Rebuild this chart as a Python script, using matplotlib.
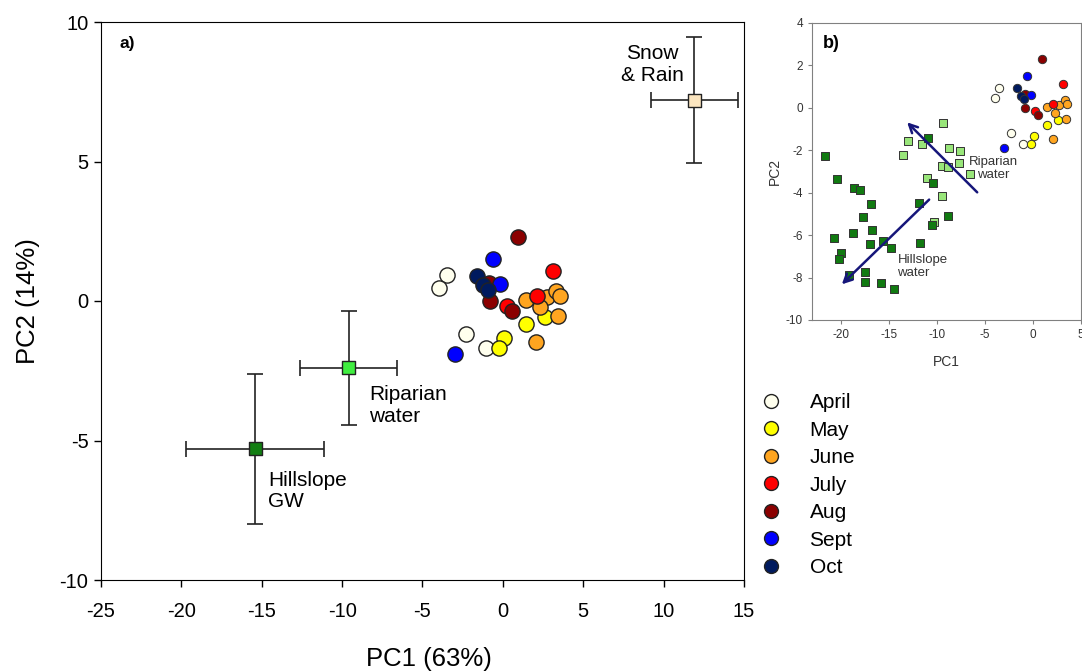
"""PCA biplot: stream samples by month with end-member means (a) and the
full end-member sample cloud (b, inset)."""

import matplotlib.pyplot as plt
from matplotlib.lines import Line2D

plt.rcParams["font.family"] = ["Liberation Sans", "DejaVu Sans"]
plt.rcParams["axes.unicode_minus"] = False

# --- stream samples by month (PC1, PC2) ---
months = ["April", "May", "June", "July", "Aug", "Sept", "Oct"]
month_colors = ["#FFFFEE", "#FFFF00", "#FFA520", "#FF0000",
                "#8B0000", "#0000FF", "#001A5E"]
april_pc1 = [-3.50, -3.97, -2.29, -1.05]
april_pc2 = [0.93, 0.45, -1.18, -1.70]
may_pc1 = [2.62, 1.42, 0.09, -0.22]
may_pc2 = [-0.58, -0.82, -1.34, -1.70]
june_pc1 = [1.42, 2.73, 3.30, 3.55, 2.31, 3.45, 2.06]
june_pc2 = [0.04, 0.13, 0.36, 0.18, -0.23, -0.54, -1.48]
july_pc1 = [3.14, 0.24, 2.10]
july_pc2 = [1.09, -0.18, 0.18]
aug_pc1 = [0.96, -0.85, -0.80, 0.55]
aug_pc2 = [2.28, 0.63, 0.00, -0.35]
sept_pc1 = [-0.59, -0.18, -2.98]
sept_pc2 = [1.51, 0.60, -1.91]
oct_pc1 = [-1.63, -1.22, -0.91]
oct_pc2 = [0.91, 0.57, 0.39]
month_pc1 = [april_pc1, may_pc1, june_pc1, july_pc1, aug_pc1, sept_pc1, oct_pc1]
month_pc2 = [april_pc2, may_pc2, june_pc2, july_pc2, aug_pc2, sept_pc2, oct_pc2]

# --- end-member means with spread (panel a) ---
em_names = ["Snow\n& Rain", "Riparian\nwater", "Hillslope\nGW"]
em_pc1 = [11.9, -9.6, -15.4]
em_pc2 = [7.2, -2.4, -5.3]
em_pc1_err = [2.7, 3.0, 4.3]
em_pc2_err = [2.25, 2.05, 2.7]
em_colors = ["#FCE6C0", "#40EE40", "#127F12"]

# --- individual end-member samples (panel b) ---
rip_pc1 = [-9.38, -13.02, -13.54, -11.56, -8.72, -7.57, -9.48, -8.89,
           -7.74, -6.60, -11.04, -9.48, -10.28]
rip_pc2 = [-0.72, -1.57, -2.24, -1.73, -1.90, -2.04, -2.76, -2.79,
           -2.61, -3.11, -3.31, -4.18, -5.38]
hill_pc1 = [-21.63, -20.35, -18.65, -17.99, -16.84, -17.74, -16.77, -18.75,
            -20.76, -17.01, -15.66, -14.79, -19.93, -20.24, -19.10, -17.53,
            -17.53, -15.83, -14.51, -11.84, -10.45, -10.49, -8.82, -11.74,
            -10.94]
hill_pc2 = [-2.29, -3.38, -3.77, -3.89, -4.52, -5.15, -5.75, -5.89,
            -6.14, -6.40, -6.28, -6.61, -6.84, -7.14, -7.90, -7.74,
            -8.21, -8.26, -8.52, -4.49, -3.55, -5.54, -5.10, -6.36,
            -1.43]

W, H = 1082, 671
fig = plt.figure(figsize=(W / 100, H / 100), dpi=100)

# ---------------- panel a ----------------
ax = fig.add_axes([101 / W, 1 - 580 / H, (744 - 101) / W, (580 - 22) / H])
ax.errorbar(em_pc1, em_pc2, xerr=em_pc1_err, yerr=em_pc2_err, fmt="none",
            ecolor="#222222", elinewidth=1.2, capsize=6, capthick=1.2,
            zorder=2)
ax.scatter(em_pc1, em_pc2, marker="s", s=88, c=em_colors,
           edgecolors="#222222", linewidths=1.0, zorder=3)

ax.text(9.28, 8.48, em_names[0], ha="center", va="center", fontsize=15,
        multialignment="center", linespacing=1.17)
ax.text(-8.33, -3.75, em_names[1], ha="left", va="center", fontsize=15,
        linespacing=1.17)
ax.text(-14.6, -6.81, em_names[2], ha="left", va="center", fontsize=15,
        linespacing=1.17)

for xs, ys, c in zip(month_pc1, month_pc2, month_colors):
    ax.scatter(xs, ys, s=120, c=c, edgecolors="#222222", linewidths=1.0,
               zorder=4)

ax.set_xlim(-25, 15)
ax.set_ylim(-10, 10)
ax.set_xticks(range(-25, 16, 5))
ax.set_yticks(range(-10, 11, 5))
ax.tick_params(direction="out", length=5, width=1, labelsize=14.5)
ax.tick_params(axis="x", pad=11)
ax.tick_params(axis="y", pad=4)
ax.set_xlabel("PC1 (63%)", fontsize=18.5)
ax.set_ylabel("PC2 (14%)", fontsize=18.5)
ax.xaxis.set_label_coords(0.51, -0.12)
ax.yaxis.set_label_coords(-0.095, 0.5)
ax.text(0.028, 0.962, "a)", transform=ax.transAxes, fontsize=12.5,
        fontweight="bold", ha="left", va="center")

# ---------------- panel b (inset) ----------------
axb = fig.add_axes([812 / W, 1 - 320 / H, (1081 - 812) / W, (320 - 22.7) / H])
axb.scatter(rip_pc1, rip_pc2, marker="s", s=40, c="#99E67A",
            edgecolors="#333333", linewidths=0.7, zorder=2)
axb.scatter(hill_pc1, hill_pc2, marker="s", s=40, c="#117A11",
            edgecolors="#333333", linewidths=0.7, zorder=2)
for xs, ys, c in zip(month_pc1, month_pc2, month_colors):
    axb.scatter(xs, ys, s=36, c=c, edgecolors="#333333", linewidths=0.7,
                zorder=3)

arrow = dict(arrowstyle="->", color="#16167A", lw=1.8, mutation_scale=15)
axb.annotate("", xy=(-13.3, -0.6), xytext=(-5.6, -4.08), arrowprops=arrow,
             zorder=4)
axb.annotate("", xy=(-20.1, -8.41), xytext=(-10.6, -4.24), arrowprops=arrow,
             zorder=4)
axb.text(-4.1, -2.87, "Riparian\nwater", ha="center", va="center",
         fontsize=9.5, color="#333333", linespacing=1.1)
axb.text(-14.1, -7.47, "Hillslope\nwater", ha="left", va="center",
         fontsize=9.5, color="#333333", linespacing=1.1)
axb.text(-21.85, 3.03, "b)", fontsize=13, fontweight="bold", ha="left",
         va="center")

axb.set_xlim(-23, 5)
axb.set_ylim(-10, 4)
axb.set_xticks(range(-20, 6, 5))
axb.set_yticks(range(-10, 5, 2))
for sp in axb.spines.values():
    sp.set_color("#808080")
axb.tick_params(direction="out", length=3, width=0.8, color="#808080",
                labelsize=8.5, labelcolor="#333333")
axb.set_xlabel("PC1", fontsize=10, color="#333333", labelpad=10)
axb.set_ylabel("PC2", fontsize=10, color="#333333", labelpad=3)

# ---------------- legend ----------------
handles = [Line2D([], [], ls="none", marker="o", markersize=10,
                  markerfacecolor=c, markeredgecolor="#222222",
                  markeredgewidth=1.0) for c in month_colors]
fig.legend(handles, months, loc="upper left",
           bbox_to_anchor=(761 / W, 1 - 393 / H), frameon=False,
           fontsize=15, handlelength=1.0, handletextpad=1.33,
           labelspacing=0.41, borderpad=0, borderaxespad=0)

fig.savefig("out.png", dpi=100)
